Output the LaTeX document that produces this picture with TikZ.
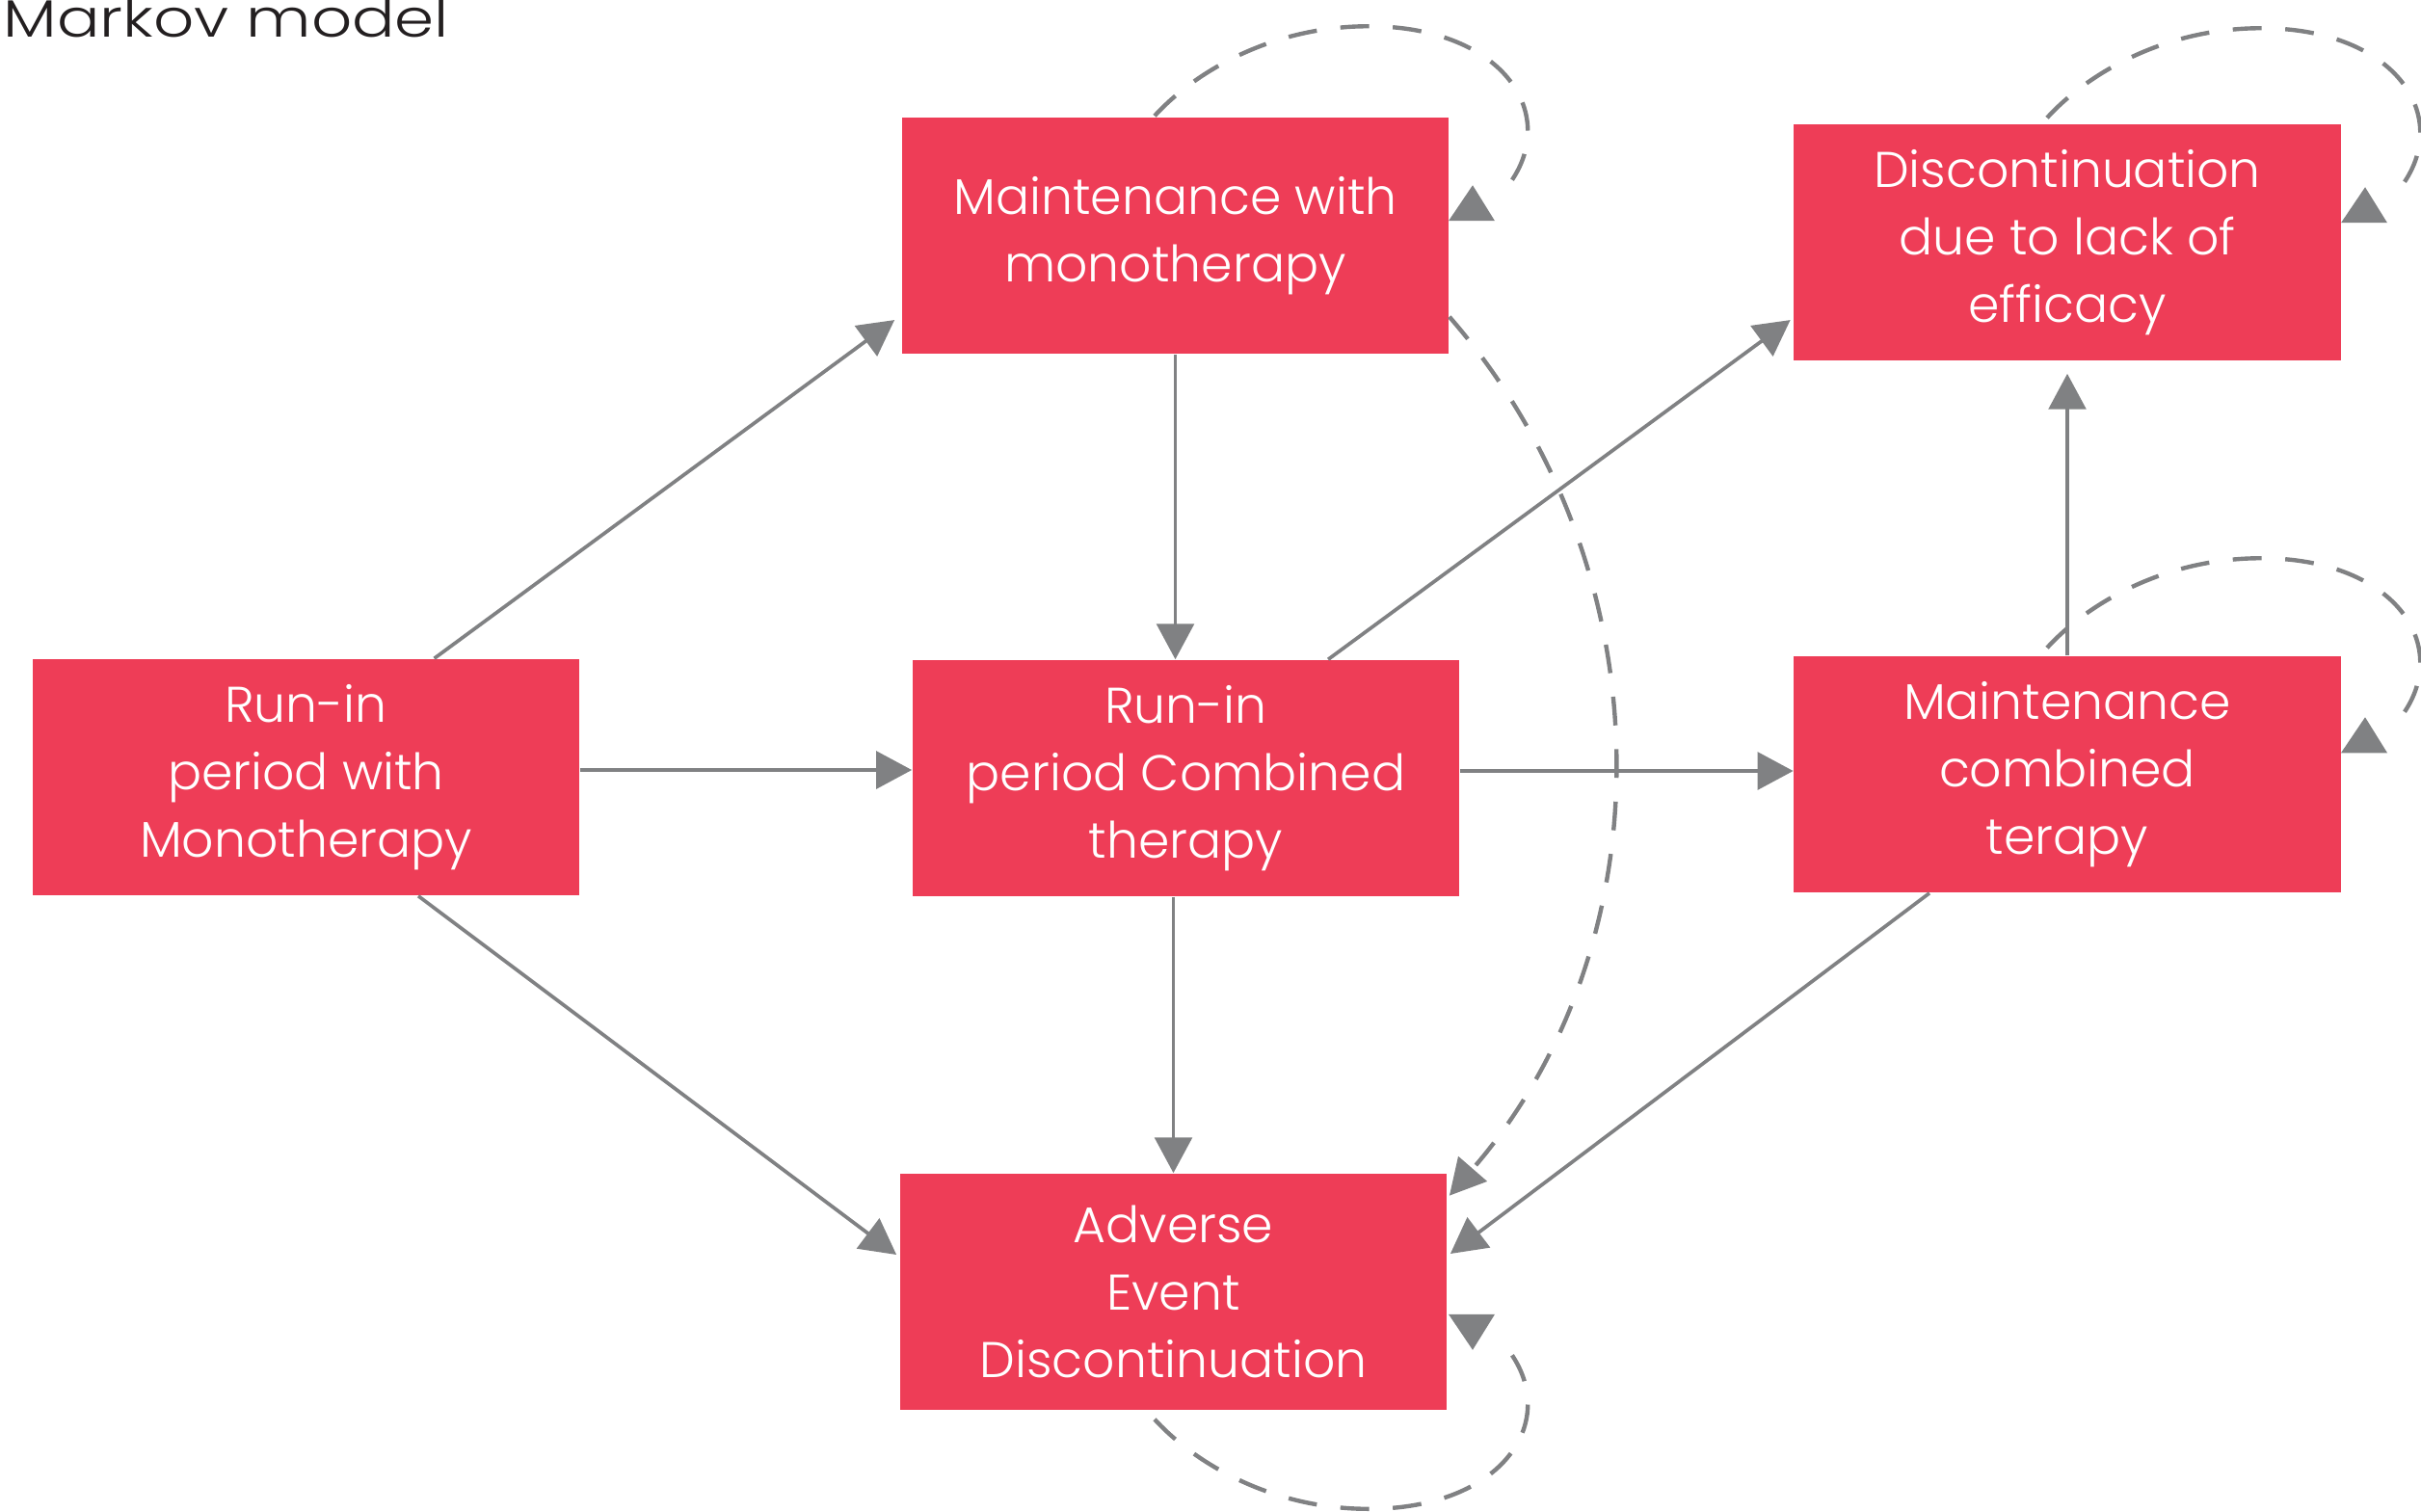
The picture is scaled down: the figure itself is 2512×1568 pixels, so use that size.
\documentclass[tikz,border=0pt]{standalone}
\usepackage{fontspec}
\usepackage{graphicx}
\newfontfamily\lightfont{Poppins Light}
\usetikzlibrary{arrows.meta,calc}
\definecolor{boxred}{RGB}{238,61,87}
\definecolor{linegrey}{RGB}{128,129,131}
\definecolor{titleink}{RGB}{35,31,32}
\tikzset{
  statebox/.style={rectangle, fill=boxred, text=white, minimum width=5.67cm, minimum height=2.45cm,
    inner sep=0pt, align=center, font=\lightfont\fontsize{14.8}{19.9}\selectfont},
  conn/.style={draw=linegrey, line width=1.05pt, -{Triangle[length=10.5pt,width=11pt]}},
  dashconn/.style={draw=linegrey, line width=1.25pt, dash pattern=on 8.5pt off 7pt},
  selfloop/.pic={
    \draw[dashconn] (0,0) .. controls (42,-46) and (122,-93) .. (222,-93)
                          .. controls (362,-93) and (422,-1) .. (367,72);
    \fill[linegrey] (305,109) -- (353,109) -- (330,72) -- cycle;
  }
}
\begin{document}
\begin{tikzpicture}[x=0.01cm,y=-0.01cm]
\useasboundingbox (0,0) rectangle (2512,1568);
\clip (0,0) rectangle (2512,1568);

\node[anchor=base west, inner sep=0pt, text=titleink, font=\lightfont\fontsize{15.5}{19.9}\selectfont] (title) at (3,38) {\resizebox{4.62cm}{\height}{Markov model}};

\node[statebox] (MM) at (1219.5,244.5) {Maintenance with\\monotherapy};
\node[statebox] (DL) at (2145,251.5) {Discontinuation\\due to lack of\\efficacy};
\node[statebox] (MC) at (2145,803.5) {Maintenance\\combined\\terapy};
\node[statebox] (RM) at (317.5,806.5) {Run-in\\period with\\Monotherapy};
\node[statebox] (RC) at (1230.5,807.5) {Run-in\\period Combined\\therapy};
\node[statebox] (AE) at (1217.5,1340.5) {Adverse\\Event\\Discontinuation};

% solid transitions
\draw[conn] ([xshift=1.33cm]RM.north) -- ([xshift=-0.07cm,yshift=-0.875cm]MM.west);
\draw[conn] ([yshift=0.075cm]RM.east) -- ([yshift=0.075cm]RM.east -| RC.west);
\draw[conn] ([xshift=1.165cm]RM.south) -- ([xshift=-0.03cm,yshift=0.385cm]AE.west);
\draw[conn] (MM.south) -- (MM.south |- RC.north);
\draw[conn] (AE.north |- RC.south) -- (AE.north);
\draw[conn] ([xshift=1.475cm]RC.north) -- ([xshift=-0.03cm,yshift=-0.805cm]DL.west);
\draw[conn] ([yshift=0.075cm]RC.east) -- ([yshift=0.075cm]RC.east -| MC.west);
\draw[conn] (MC.north) -- ([yshift=-0.13cm]DL.south);
\draw[conn] ([xshift=-1.43cm]MC.south) -- ([xshift=0.03cm,yshift=0.395cm]AE.east);

% dashed transition MM -> AE
\draw[dashconn, -{Triangle[length=10.5pt,width=11pt]}] ([yshift=0.39cm]MM.south east)
  arc[start angle=-41, end angle=41, radius=695];

% self loops
\pic at ([shift={(-21.5,-1)}]MM.north) {selfloop};
\pic at ([shift={(-21,-6)}]DL.north) {selfloop};
\pic at ([shift={(-21,-8)}]MC.north) {selfloop};
\pic[yscale=-1] at ([shift={(-19.5,9)}]AE.south) {selfloop};
\end{tikzpicture}
\end{document}
